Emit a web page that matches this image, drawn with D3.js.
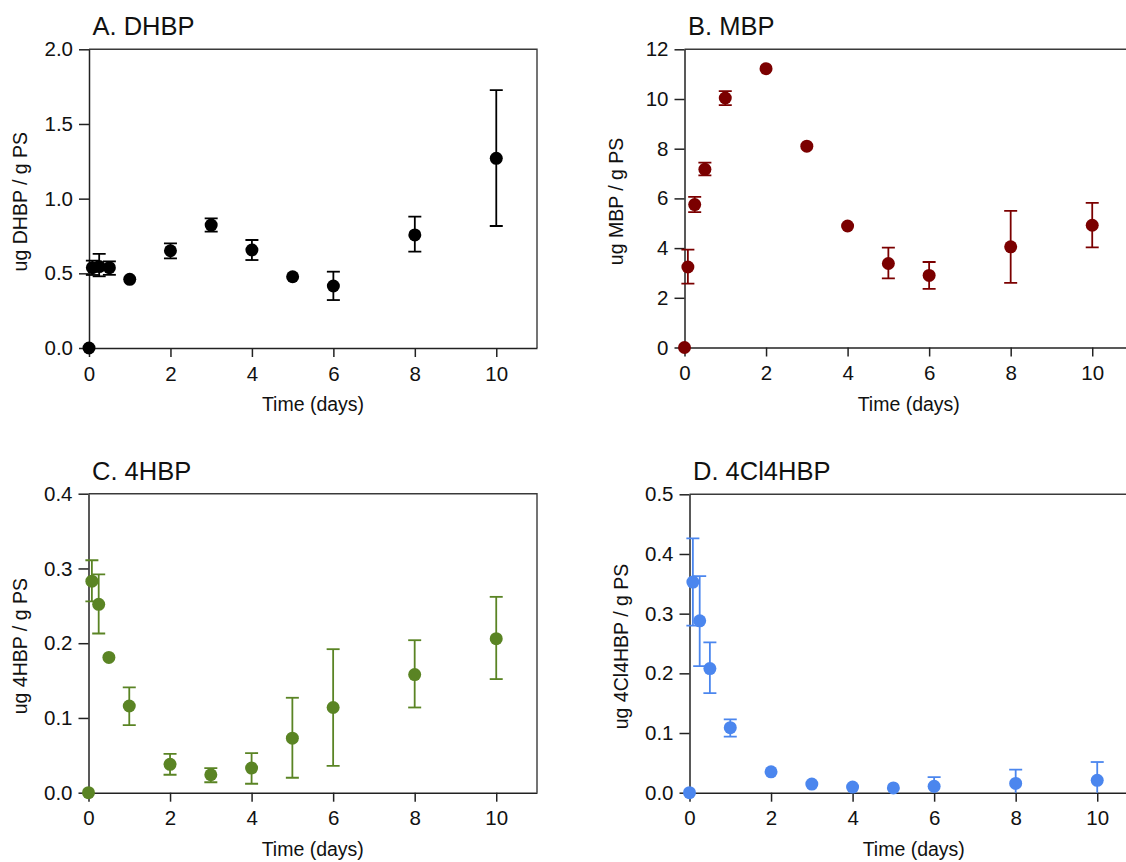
<!DOCTYPE html>
<html><head><meta charset="utf-8">
<script src="https://cdn.jsdelivr.net/npm/d3@7"></script>
<style>
html,body{margin:0;padding:0;background:#fff;}
svg{display:block;font-family:"Liberation Sans",Arial,Helvetica,sans-serif;}
</style></head>
<body>
<svg id="chart" width="1126" height="862"></svg>
<script>
// ---- data ----
const timesDays = [0, 0.083, 0.25, 0.5, 1, 2, 3, 4, 5, 6, 8, 10];
const xTicks = [0, 2, 4, 6, 8, 10];

const dhbpMean  = [0, 0.538, 0.545, 0.538, 0.46, 0.651, 0.823, 0.656, 0.477, 0.415, 0.757, 1.27];
const dhbpUpper = [null, 0.585, 0.63, 0.58, null, 0.70, 0.868, 0.723, null, 0.511, 0.879, 1.727];
const dhbpLower = [null, 0.489, 0.48, 0.49, null, 0.60, 0.779, 0.589, null, 0.321, 0.645, 0.817];

const mbpMean  = [0, 3.24, 5.75, 7.17, 10.04, 11.22, 8.10, 4.89, 3.38, 2.90, 4.05, 4.92];
const mbpUpper = [null, 3.94, 6.06, 7.44, 10.32, null, null, null, 4.02, 3.44, 5.50, 5.82];
const mbpLower = [null, 2.57, 5.45, 6.93, 9.75, null, null, null, 2.78, 2.36, 2.60, 4.03];

const hbpMean  = [0, 0.283, 0.252, 0.181, 0.116, 0.038, 0.024, 0.033, 0.073, 0.114, 0.158, 0.206];
const hbpUpper = [null, 0.311, 0.292, null, 0.141, 0.052, 0.033, 0.053, 0.127, 0.192, 0.204, 0.262];
const hbpLower = [null, 0.256, 0.213, null, 0.0905, 0.024, 0.014, 0.012, 0.020, 0.036, 0.114, 0.152];

const clhbpMean  = [0, 0.353, 0.288, 0.208, 0.109, 0.035, 0.0145, 0.0095, 0.008, 0.0106, 0.0156, 0.0207];
const clhbpUpper = [null, 0.426, 0.363, 0.252, 0.123, null, null, null, null, 0.026, 0.0385, 0.0514];
const clhbpLower = [null, 0.280, 0.212, 0.167, 0.094, null, null, null, null, -0.0048, -0.0073, -0.010];

const panelTitles = ["A. DHBP", "B. MBP", "C. 4HBP", "D. 4Cl4HBP"];
const yLabels = ["ug DHBP / g PS", "ug MBP / g PS", "ug 4HBP / g PS", "ug 4Cl4HBP / g PS"];
const yTicksA = [0, 0.5, 1.0, 1.5, 2.0];
const yTicksB = [0, 2, 4, 6, 8, 10, 12];
const yTicksC = [0, 0.1, 0.2, 0.3, 0.4];
const yTicksD = [0, 0.1, 0.2, 0.3, 0.4, 0.5];
const xLabel = "Time (days)";

// ---- layout / style ----
const panels = [
  {title: panelTitles[0], ylab: yLabels[0], mean: dhbpMean, up: dhbpUpper, lo: dhbpLower,
   yTicks: yTicksA, fmt: d3.format(".1f"), color: "#000000",
   left: 89, top: 49.3, right: 537, bottom: 348},
  {title: panelTitles[1], ylab: yLabels[1], mean: mbpMean, up: mbpUpper, lo: mbpLower,
   yTicks: yTicksB, fmt: d3.format("d"), color: "#7b0000",
   left: 684.5, top: 49.3, right: 1133, bottom: 347.5},
  {title: panelTitles[2], ylab: yLabels[2], mean: hbpMean, up: hbpUpper, lo: hbpLower,
   yTicks: yTicksC, fmt: d3.format(".1f"), color: "#5a8424",
   left: 88.5, top: 493.7, right: 537, bottom: 792.7},
  {title: panelTitles[3], ylab: yLabels[3], mean: clhbpMean, up: clhbpUpper, lo: clhbpLower,
   yTicks: yTicksD, fmt: d3.format(".1f"), color: "#4b86ee",
   left: 689.5, top: 494.3, right: 1138, bottom: 792.7}
];

const svg = d3.select("#chart");
const FONT = "Liberation Sans, Arial, sans-serif";

panels.forEach((p, i) => {
  const x = d3.scaleLinear().domain([0, 11]).range([p.left, p.right]);
  const yMax = p.yTicks[p.yTicks.length - 1];
  const y = d3.scaleLinear().domain([0, yMax]).range([p.bottom, p.top]);
  const g = svg.append("g");

  const clipId = "clip" + i;
  svg.append("clipPath").attr("id", clipId).append("rect")
    .attr("x", p.left - 20).attr("y", p.top - 20)
    .attr("width", p.right - p.left + 40).attr("height", p.bottom - p.top + 20);

  // frame top/right
  g.append("path")
    .attr("d", `M${p.left},${p.top}H${p.right}V${p.bottom}`)
    .attr("fill", "none").attr("stroke", "#3a3a3a").attr("stroke-width", 1.4);

  // x axis
  const xa = g.append("g").attr("transform", `translate(0,${p.bottom})`)
    .call(d3.axisBottom(x).tickValues(xTicks).tickSize(9).tickPadding(9).tickSizeOuter(0));
  xa.select(".domain").attr("stroke", "#222").attr("stroke-width", 1.5);
  xa.selectAll(".tick line").attr("stroke", "#222").attr("stroke-width", 1.5);
  xa.selectAll("text").attr("font-size", 20.5).attr("fill", "#111").attr("font-family", FONT);

  // y axis
  const ya = g.append("g").attr("transform", `translate(${p.left},0)`)
    .call(d3.axisLeft(y).tickValues(p.yTicks).tickFormat(p.fmt).tickSize(10).tickPadding(6).tickSizeOuter(0));
  ya.select(".domain").attr("stroke", "#222").attr("stroke-width", 1.5);
  ya.selectAll(".tick line").attr("stroke", "#222").attr("stroke-width", 1.5);
  ya.selectAll("text").attr("font-size", 20.5).attr("fill", "#111").attr("font-family", FONT);

  // titles
  g.append("text").attr("x", p.left + 3.5).attr("y", p.top - 14)
    .attr("font-size", 25.5).attr("fill", "#111").attr("font-family", FONT).text(p.title);

  g.append("text")
    .attr("x", (p.left + p.right) / 2).attr("y", p.bottom + 63)
    .attr("text-anchor", "middle").attr("font-size", 19.5).attr("fill", "#111")
    .attr("font-family", FONT).text(xLabel);

  const cy = (p.top + p.bottom) / 2 + 3;
  g.append("text")
    .attr("transform", `translate(${p.left - 62},${cy}) rotate(-90)`)
    .attr("text-anchor", "middle").attr("font-size", 19.5).attr("fill", "#111")
    .attr("font-family", FONT).text(p.ylab);

  // data
  const data = timesDays.map((t, k) => ({t, v: p.mean[k], up: p.up[k], lo: p.lo[k]}));
  const eb = g.append("g").attr("clip-path", `url(#${clipId})`)
    .attr("stroke", p.color).attr("stroke-width", 1.8).attr("fill", "none");
  const cap = 6.5;
  data.filter(d => d.up != null).forEach(d => {
    const cx = x(d.t);
    eb.append("line").attr("x1", cx).attr("x2", cx).attr("y1", y(d.up)).attr("y2", y(d.lo));
    eb.append("line").attr("x1", cx - cap).attr("x2", cx + cap).attr("y1", y(d.up)).attr("y2", y(d.up));
    eb.append("line").attr("x1", cx - cap).attr("x2", cx + cap).attr("y1", y(d.lo)).attr("y2", y(d.lo));
  });

  g.append("g").selectAll("circle").data(data).join("circle")
    .attr("cx", d => x(d.t)).attr("cy", d => y(d.v)).attr("r", 6.5)
    .attr("fill", p.color);
});
</script>
</body></html>
